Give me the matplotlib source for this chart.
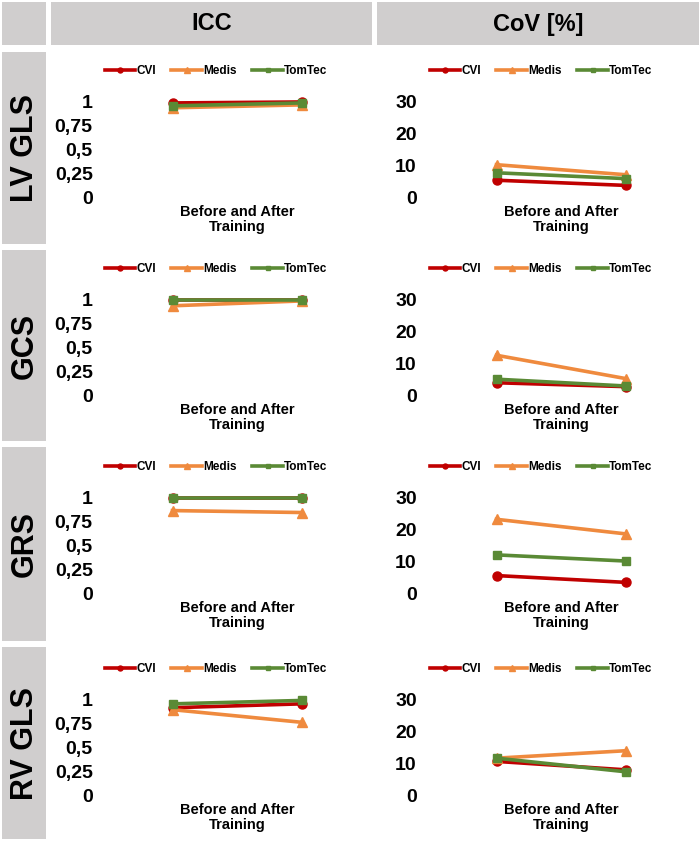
import matplotlib
matplotlib.use('Agg')
import matplotlib.pyplot as plt
from matplotlib.patches import Rectangle

plt.rcParams['font.family'] = ['Liberation Sans', 'DejaVu Sans']
plt.rcParams['font.weight'] = 'bold'
plt.rcParams['axes.labelweight'] = 'bold'

# data: [before, after] for each parameter row
params = ['LV GLS', 'GCS', 'GRS', 'RV GLS']
methods = ['CVI', 'Medis', 'TomTec']
xlabel = 'Before and After\nTraining'

icc_cvi = [[0.98, 0.99], [0.99, 0.99], [0.99, 0.99], [0.91, 0.95]]
icc_medis = [[0.93, 0.96], [0.93, 0.98], [0.86, 0.84], [0.89, 0.76]]
icc_tomtec = [[0.95, 0.98], [0.99, 0.99], [0.99, 0.99], [0.95, 0.985]]

cov_cvi = [[5.5, 3.9], [4.1, 2.9], [5.7, 3.6], [10.7, 8.1]]
cov_medis = [[10.3, 7.2], [12.6, 5.4], [23.1, 18.6], [11.7, 14.0]]
cov_tomtec = [[7.8, 6.0], [5.2, 3.1], [12.1, 10.2], [11.7, 7.5]]

icc_ticks = [0, 0.25, 0.5, 0.75, 1]
icc_ticklabels = ['0', '0,25', '0,5', '0,75', '1']
cov_ticks = [0, 10, 20, 30]
cov_ticklabels = ['0', '10', '20', '30']

colors = {'CVI': '#c00000', 'Medis': '#ef8a3e', 'TomTec': '#5a8a35'}
markers = {'CVI': 'o', 'Medis': '^', 'TomTec': 's'}
msizes = {'CVI': 6.5, 'Medis': 7.5, 'TomTec': 5.5}

W, H = 700, 842
fig = plt.figure(figsize=(7, 8.42), dpi=100)
gray = '#d0cece'


def box(x0, y0, x1, y1):
    return [x0 / W, 1 - y1 / H, (x1 - x0) / W, (y1 - y0) / H]


def cell(x0, y0, x1, y1):
    b = box(x0, y0, x1, y1)
    fig.add_artist(Rectangle((b[0], b[1]), b[2], b[3], transform=fig.transFigure,
                             facecolor=gray, edgecolor='none', zorder=0))


# header cells
cell(2, 2, 46, 45)
cell(51, 2, 372, 45)
cell(377, 2, 699, 45)
fig.text(212 / W, 1 - 24 / H, 'ICC', ha='center', va='center', fontsize=17,
         fontweight='bold')
fig.text(538 / W, 1 - 24 / H, 'CoV [%]', ha='center', va='center', fontsize=17,
         fontweight='bold')

row_cells = [(52, 244), (250, 441), (447, 641), (647, 839)]
zero_y = [198, 396, 594, 796]

for r, name in enumerate(params):
    y0c, y1c = row_cells[r]
    cell(2, y0c, 46, y1c)
    fig.text(25 / W, 1 - (y0c + y1c) / 2 / H, name, rotation=90, ha='center',
             va='center', fontsize=22)

    icc_data = {'CVI': icc_cvi[r], 'Medis': icc_medis[r], 'TomTec': icc_tomtec[r]}
    cov_data = {'CVI': cov_cvi[r], 'Medis': cov_medis[r], 'TomTec': cov_tomtec[r]}
    panels = [(108, icc_data, 1, icc_ticks, icc_ticklabels, 216),
              (432, cov_data, 30, cov_ticks, cov_ticklabels, 541)]
    for left, data, ymax, ticks, labels, leg_x in panels:
        ax = fig.add_axes(box(left, zero_y[r] - 97, left + 258, zero_y[r]))
        handles = []
        for m in methods:
            h, = ax.plot([0, 1], data[m], color=colors[m], lw=2.6, marker=markers[m],
                         ms=msizes[m], clip_on=False, label=m)
            handles.append(h)
        ax.set_xlim(-0.5, 1.5)
        ax.set_ylim(0, ymax)
        ax.set_yticks(ticks)
        ax.set_yticklabels(labels)
        ax.set_xticks([])
        ax.tick_params(axis='y', length=0, pad=11, labelsize=14)
        for s in ax.spines.values():
            s.set_visible(False)
        ax.patch.set_alpha(0)
        ax.set_xlabel(xlabel, fontsize=10.5, fontweight='bold', labelpad=5, linespacing=1.1)
        ax.legend(handles=handles, loc='center', bbox_to_anchor=(leg_x / W, 1 - (zero_y[r] - 127) / H),
                  bbox_transform=fig.transFigure, ncol=3, frameon=False,
                  prop={'size': 8.5, 'weight': 'bold'},
                  handlelength=2.6, handletextpad=0.1, columnspacing=1.3, markerscale=0.55)

plt.savefig('out.png', dpi=100)
